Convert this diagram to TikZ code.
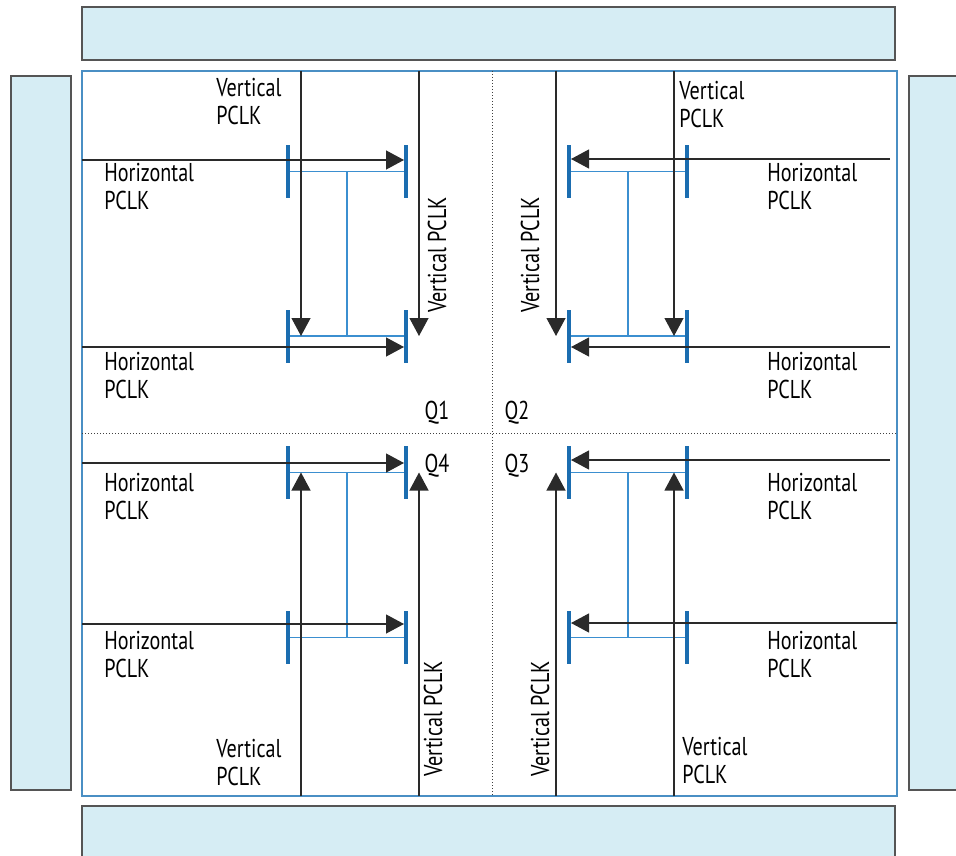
\documentclass[tikz,border=0pt]{standalone}
\usepackage{fontspec}
\setmainfont[FakeStretch=0.78]{PT Sans}
\usetikzlibrary{arrows.meta, positioning, calc}
\definecolor{paleblue}{HTML}{D6EDF4}
\definecolor{boxedge}{HTML}{555555}
\definecolor{frameblue}{HTML}{4A8FC4}
\definecolor{barblue}{HTML}{1B6DB0}
\definecolor{linkblue}{HTML}{3B8FD0}
\definecolor{wire}{HTML}{2A2A2A}
\tikzset{
  iobank/.style={draw=boxedge, fill=paleblue, line width=0.6pt},
  bar/.style={rectangle, fill=barblue, minimum width=1.6pt, minimum height=26.5pt, inner sep=0},
  link/.style={linkblue, line width=0.75pt},
  clk/.style={-{Triangle[length=9pt, width=9.5pt]}, wire, line width=0.6pt},
  lbl/.style={font=\fontsize{12.9}{14}\selectfont, align=left, inner sep=0, anchor=west},
  vlbl/.style={lbl, anchor=center, rotate=90},
  quad/.style={font=\fontsize{12.9}{14}\selectfont, inner sep=0},
  divider/.style={densely dotted, line width=0.5pt, black!75},
}

\begin{document}
\begin{tikzpicture}[x=0.5pt, y=-0.5pt]
\clip (0,0) rectangle (956,855);
% I/O banks round the core
\draw[iobank] (82,7) rectangle (895,60);
\draw[iobank] (82,806) rectangle (895,875);
\draw[iobank] (11,76) rectangle (71,790);
\draw[iobank] (909,76) rectangle (975,790);
\draw[frameblue, line width=0.7pt] (82,71) rectangle (897,796);
\draw[divider] (492,71) -- (492,796);
\draw[divider] (82,433) -- (897,433);

% Q1
\node[bar] (q1ul) at (288,171.5) {};
\node[bar] (q1ur) at (406,171.5) {};
\node[bar] (q1ll) at (288,336) {};
\node[bar] (q1lr) at (406,336) {};
\draw[link] (q1ul) -- (q1ur) (q1ll) -- (q1lr) ($(q1ul)!.5!(q1ur)$) -- ($(q1ll)!.5!(q1lr)$);
\coordinate (q1h1) at (82,160);
\coordinate (q1h2) at (82,347);
\coordinate (q1v1) at (301,71);
\coordinate (q1v2) at (419,71);
\draw[clk] (q1h1) -- (q1h1 -| q1ur.west);
\draw[clk] (q1h2) -- (q1h2 -| q1lr.west);
\draw[clk] (q1v1) -- (q1v1 |- q1ll);
\draw[clk] (q1v2) -- (q1v2 |- q1lr);
\node[lbl] (q1vt) at (216,102) {Vertical\\PCLK};
\node[lbl] (q1ht) at (104,187) {Horizontal\\PCLK};
\node[lbl] (q1hb) at (104,376) {Horizontal\\PCLK};
\node[vlbl] (q1vr) at (437,255) {Vertical PCLK};
\node[quad] (q1) at (437,413) {Q1};

% Q2
\node[bar] (q2ul) at (569,171.5) {};
\node[bar] (q2ur) at (687,171.5) {};
\node[bar] (q2ll) at (569,336) {};
\node[bar] (q2lr) at (687,336) {};
\draw[link] (q2ul) -- (q2ur) (q2ll) -- (q2lr) ($(q2ul)!.5!(q2ur)$) -- ($(q2ll)!.5!(q2lr)$);
\coordinate (q2h1) at (890,159);
\coordinate (q2h2) at (890,347);
\coordinate (q2v1) at (556,71);
\coordinate (q2v2) at (674,71);
\draw[clk] (q2h1) -- (q2h1 -| q2ul.east);
\draw[clk] (q2h2) -- (q2h2 -| q2ll.east);
\draw[clk] (q2v1) -- (q2v1 |- q2ll);
\draw[clk] (q2v2) -- (q2v2 |- q2lr);
\node[lbl] (q2vt) at (679,105) {Vertical\\PCLK};
\node[lbl] (q2ht) at (767,187) {Horizontal\\PCLK};
\node[lbl] (q2hb) at (767,376) {Horizontal\\PCLK};
\node[vlbl] (q2vl) at (530,255) {Vertical PCLK};
\node[quad] (q2) at (517,413) {Q2};

% Q4
\node[bar] (q4ul) at (288,472.5) {};
\node[bar] (q4ur) at (406,472.5) {};
\node[bar] (q4ll) at (288,637.5) {};
\node[bar] (q4lr) at (406,637.5) {};
\draw[link] (q4ul) -- (q4ur) (q4ll) -- (q4lr) ($(q4ul)!.5!(q4ur)$) -- ($(q4ll)!.5!(q4lr)$);
\coordinate (q4h1) at (82,463);
\coordinate (q4h2) at (82,624);
\coordinate (q4v1) at (301,796);
\coordinate (q4v2) at (419,796);
\draw[clk] (q4h1) -- (q4h1 -| q4ur.west);
\draw[clk] (q4h2) -- (q4h2 -| q4lr.west);
\draw[clk] (q4v1) -- (q4v1 |- q4ul);
\draw[clk] (q4v2) -- (q4v2 |- q4ur);
\node[lbl] (q4ht) at (104,497) {Horizontal\\PCLK};
\node[lbl] (q4hb) at (104,655) {Horizontal\\PCLK};
\node[lbl] (q4vb) at (216,763) {Vertical\\PCLK};
\node[vlbl] (q4vr) at (433,719) {Vertical PCLK};
\node[quad] (q4) at (437,466) {Q4};

% Q3
\node[bar] (q3ul) at (569,472.5) {};
\node[bar] (q3ur) at (687,472.5) {};
\node[bar] (q3ll) at (569,637.5) {};
\node[bar] (q3lr) at (687,637.5) {};
\draw[link] (q3ul) -- (q3ur) (q3ll) -- (q3lr) ($(q3ul)!.5!(q3ur)$) -- ($(q3ll)!.5!(q3lr)$);
\coordinate (q3h1) at (890,460);
\coordinate (q3h2) at (897,623);
\coordinate (q3v1) at (556,796);
\coordinate (q3v2) at (674,796);
\draw[clk] (q3h1) -- (q3h1 -| q3ul.east);
\draw[clk] (q3h2) -- (q3h2 -| q3ll.east);
\draw[clk] (q3v1) -- (q3v1 |- q3ul);
\draw[clk] (q3v2) -- (q3v2 |- q3ur);
\node[lbl] (q3ht) at (767,497) {Horizontal\\PCLK};
\node[lbl] (q3hb) at (767,655) {Horizontal\\PCLK};
\node[lbl] (q3vb) at (682,761) {Vertical\\PCLK};
\node[vlbl] (q3vl) at (540,719) {Vertical PCLK};
\node[quad] (q3) at (517,466) {Q3};
\end{tikzpicture}
\end{document}
